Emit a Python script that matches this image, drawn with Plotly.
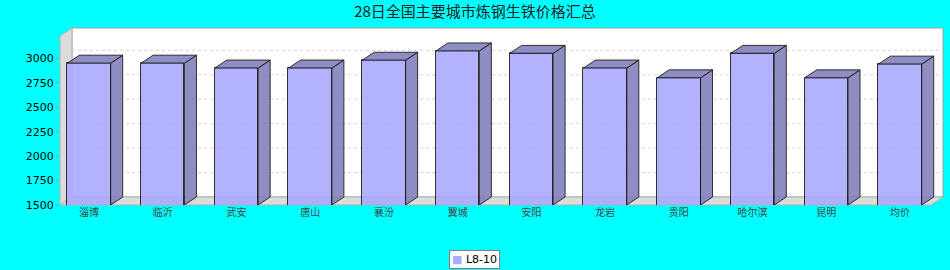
import plotly.graph_objects as go

# ---- data ----
categories = ["淄博", "临沂", "武安", "唐山", "襄汾", "翼城", "安阳", "龙岩", "贵阳", "哈尔滨", "昆明", "均价"]
values = [2950, 2950, 2900, 2900, 2980, 3075, 3050, 2900, 2800, 3050, 2800, 2940]
series_name = "L8-10"
title_text = "28日全国主要城市炼钢生铁价格汇总"
y_ticks = [1500, 1750, 2000, 2250, 2500, 2750, 3000]

# ---- geometry (pixels) ----
FIG_W, FIG_H = 950, 270
PX_L, PX_R, PX_T, PX_B = 60, 943, 28, 205
W, H = PX_R - PX_L, PX_B - PX_T
DX_PX, DY_PX = 12, 8
PX_PER_CAT = 73.73
FIRST_CENTER_PX = 89
Y_BASE = 1500
PX_PER_UNIT = 146.7 / 1500.0
BAR_W = 43.4 / PX_PER_CAT

x_min = -(FIRST_CENTER_PX - PX_L) / PX_PER_CAT
x_max = (PX_R - FIRST_CENTER_PX) / PX_PER_CAT
y_max = Y_BASE + H / PX_PER_UNIT
dxu = DX_PX / PX_PER_CAT
dyu = DY_PX / PX_PER_UNIT
dxp = DX_PX / W
dyp = DY_PX / H

FRONT = "rgb(170,170,255)"
SIDE = "rgb(130,130,190)"
LEGEND_SWATCH = "#aaaaff"
EDGE = "#1a1a1a"
OPAC = 0.9

xs = list(range(len(categories)))

fig = go.Figure()

# side and top faces computed from the values
side_x, side_y, top_x, top_y = [], [], [], []
for i, v in zip(xs, values):
    xl, xr = i - BAR_W / 2, i + BAR_W / 2
    side_x += [xr, xr + dxu, xr + dxu, xr, xr, None]
    side_y += [Y_BASE, Y_BASE + dyu, v + dyu, v, Y_BASE, None]
    top_x += [xl, xl + dxu, xr + dxu, xr, xl, None]
    top_y += [v, v + dyu, v + dyu, v, v, None]

fig.add_trace(go.Scatter(x=side_x, y=side_y, fill="toself", fillcolor=SIDE, mode="lines",
                         line=dict(color=EDGE, width=1), opacity=OPAC,
                         showlegend=False, hoverinfo="skip", cliponaxis=False))
fig.add_trace(go.Scatter(x=top_x, y=top_y, fill="toself", fillcolor=SIDE, mode="lines",
                         line=dict(color=EDGE, width=1), opacity=OPAC,
                         showlegend=False, hoverinfo="skip", cliponaxis=False))
fig.add_trace(go.Bar(x=xs, y=values, width=BAR_W, name=series_name,
                     marker=dict(color=FRONT, line=dict(color=EDGE, width=1)),
                     opacity=OPAC, showlegend=False))

shapes = []
# back wall
shapes.append(dict(type="rect", xref="paper", yref="paper", x0=dxp, x1=1, y0=dyp, y1=1,
                   fillcolor="white", line=dict(color="#a0a0a0", width=1), layer="below"))
# left wall
shapes.append(dict(type="path", xref="paper", yref="paper",
                   path=f"M 0 0 L {dxp} {dyp} L {dxp} 1 L 0 {1 - dyp} Z",
                   fillcolor="#dcdcdc", line=dict(color="#b0b0b0", width=1), layer="below"))
# floor
shapes.append(dict(type="path", xref="paper", yref="paper",
                   path=f"M 0 0 L {dxp} {dyp} L 1 {dyp} L {1 - dxp} 0 Z",
                   fillcolor="#dcdcdc", line=dict(color="#b0b0b0", width=1), layer="below"))
# gridlines on the back wall
for v in y_ticks[1:]:
    shapes.append(dict(type="line", xref="paper", yref="y", x0=dxp, x1=1, y0=v + dyu, y1=v + dyu,
                       line=dict(color="#d4d4d4", width=1, dash="3px,3px"), layer="below"))

# compact legend box
legend_ann = dict(
    xref="paper", yref="paper", x=(474 - PX_L) / W, y=(PX_B - 259) / H,
    xanchor="center", yanchor="middle", showarrow=False,
    text=f"<span style='color:{LEGEND_SWATCH}'>■</span> {series_name}",
    font=dict(family="DejaVu Sans", size=11, color="black"),
    bgcolor="white", bordercolor="#808080", borderwidth=1, borderpad=2,
)

fig.update_layout(
    width=FIG_W, height=FIG_H,
    margin=dict(l=PX_L, r=FIG_W - PX_R, t=PX_T, b=FIG_H - PX_B, autoexpand=False),
    paper_bgcolor="#00ffff", plot_bgcolor="#00ffff",
    title=dict(text=title_text, x=0.5, xanchor="center", y=1 - 12 / FIG_H, yanchor="middle",
               font=dict(family="Noto Sans CJK SC", size=15, color="#222222")),
    shapes=shapes,
    annotations=[legend_ann],
    bargap=0,
    showlegend=False,
    xaxis=dict(range=[x_min, x_max], tickvals=xs, ticktext=categories, showgrid=False,
               zeroline=False, showline=False, ticks="",
               tickfont=dict(family="Noto Sans CJK SC", size=10, color="#444444")),
    yaxis=dict(range=[Y_BASE, y_max], tickvals=y_ticks, showgrid=False, zeroline=False,
               showline=False, ticks="outside", ticklen=3, tickcolor="#999999",
               tickfont=dict(family="DejaVu Sans", size=11, color="black")),
)

fig.write_html("out.html")
